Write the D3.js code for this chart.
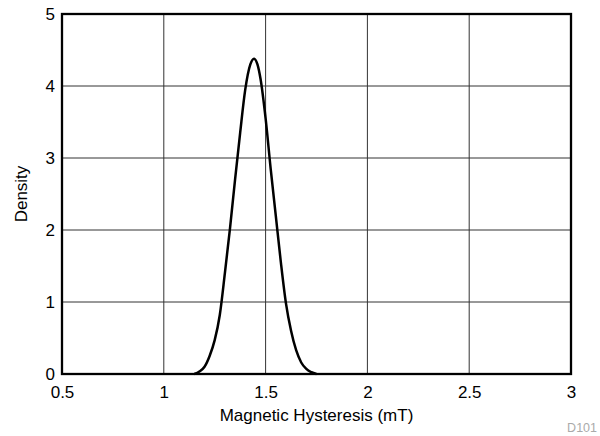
<!DOCTYPE html>
<html>
<head>
<meta charset="utf-8">
<script src="https://cdn.jsdelivr.net/npm/d3@7"></script>
<style>
  body { margin: 0; background: #fff; }
  text { font-family: "Liberation Sans", Arial, sans-serif; }
</style>
</head>
<body>
<div id="chart"></div>
<script>
// curve values
var hysteresis = [1.15, 1.175, 1.2, 1.225, 1.25, 1.275, 1.3, 1.325, 1.35, 1.375, 1.4, 1.425, 1.443,
  1.46, 1.475, 1.5, 1.525, 1.55, 1.575, 1.6, 1.625, 1.65, 1.675, 1.7, 1.725, 1.75]
var density = [0, 0.035, 0.1, 0.25, 0.47, 0.82, 1.4, 2.02, 2.7, 3.35, 3.95, 4.3, 4.38,
  4.3, 4.1, 3.55, 2.85, 2.2, 1.55, 0.98, 0.6, 0.33, 0.16, 0.07, 0.025, 0]
var xTicks = [0.5, 1, 1.5, 2, 2.5, 3]
var yTicks = [0, 1, 2, 3, 4, 5]

var width = 600
var height = 436
var margin = {top: 14, right: 29, bottom: 62, left: 62}

var svg = d3.select("#chart")
  .append("svg")
    .attr("width", width)
    .attr("height", height)

var x = d3.scaleLinear()
  .domain([0.5, 3])
  .range([margin.left, width - margin.right])

var y = d3.scaleLinear()
  .domain([0, 5])
  .range([height - margin.bottom, margin.top])

// grid
svg.append("g")
  .selectAll("line.vgrid")
  .data(xTicks)
  .enter()
  .append("line")
    .attr("x1", function(d){ return x(d) })
    .attr("x2", function(d){ return x(d) })
    .attr("y1", y(0))
    .attr("y2", y(5))
    .attr("stroke", "#333")
    .attr("stroke-width", 1)

svg.append("g")
  .selectAll("line.hgrid")
  .data(yTicks)
  .enter()
  .append("line")
    .attr("x1", x(0.5))
    .attr("x2", x(3))
    .attr("y1", function(d){ return y(d) })
    .attr("y2", function(d){ return y(d) })
    .attr("stroke", "#333")
    .attr("stroke-width", 1)

// axes (labels only, frame drawn below)
var xAxis = svg.append("g")
  .attr("transform", "translate(0," + y(0) + ")")
  .call(d3.axisBottom(x).tickValues(xTicks).tickSize(0).tickPadding(12)
    .tickFormat(function(d){ return String(d) }))
xAxis.select(".domain").remove()
xAxis.selectAll("text").style("font-size", "17px").attr("fill", "#000")
  .attr("font-family", "Liberation Sans, Arial, sans-serif")

var yAxis = svg.append("g")
  .attr("transform", "translate(" + x(0.5) + ",0)")
  .call(d3.axisLeft(y).tickValues(yTicks).tickSize(0).tickPadding(7)
    .tickFormat(d3.format("d")))
yAxis.select(".domain").remove()
yAxis.selectAll("text").style("font-size", "17px").attr("fill", "#000")
  .attr("font-family", "Liberation Sans, Arial, sans-serif")

// frame
svg.append("rect")
  .attr("x", x(0.5))
  .attr("y", y(5))
  .attr("width", x(3) - x(0.5))
  .attr("height", y(0) - y(5))
  .attr("fill", "none")
  .attr("stroke", "#000")
  .attr("stroke-width", 2.3)

// density curve
var points = hysteresis.map(function(h, i){ return [h, density[i]] })
svg.append("path")
  .datum(points)
  .attr("fill", "none")
  .attr("stroke", "#000")
  .attr("stroke-width", 2.5)
  .attr("stroke-linejoin", "round")
  .attr("d", d3.line()
    .x(function(d){ return x(d[0]) })
    .y(function(d){ return y(d[1]) })
    .curve(d3.curveMonotoneX))

// titles
svg.append("text")
  .attr("x", (x(0.5) + x(3)) / 2)
  .attr("y", 421)
  .attr("text-anchor", "middle")
  .style("font-size", "17px")
  .text("Magnetic Hysteresis (mT)")

svg.append("text")
  .attr("transform", "translate(27," + ((y(0) + y(5)) / 2) + ") rotate(-90)")
  .attr("text-anchor", "middle")
  .style("font-size", "17px")
  .text("Density")

svg.append("text")
  .attr("x", 597)
  .attr("y", 432)
  .attr("text-anchor", "end")
  .attr("fill", "#aaa")
  .style("font-size", "12.5px")
  .text("D101")
</script>
</body>
</html>
